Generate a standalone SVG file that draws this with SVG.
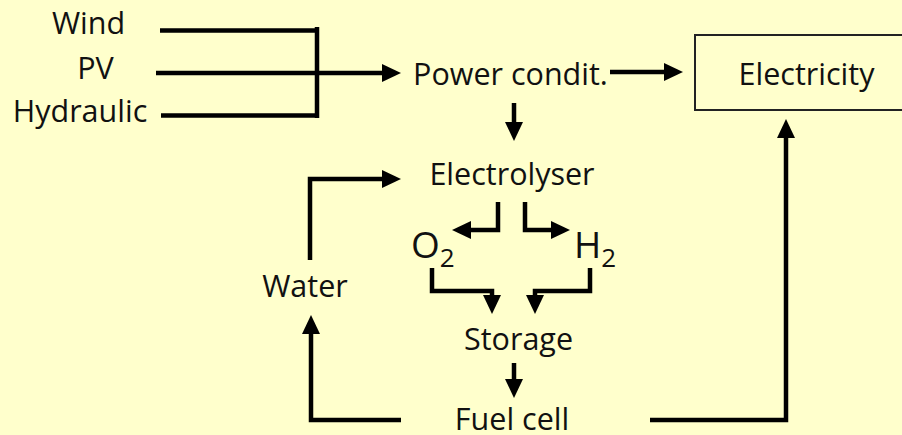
<svg xmlns="http://www.w3.org/2000/svg" width="902" height="435" viewBox="0 0 902 435">
<defs>
<marker id="ah" markerUnits="userSpaceOnUse" markerWidth="19" markerHeight="18" refX="0" refY="9" orient="auto" viewBox="0 0 19 18">
<path d="M0,0 L19,9 L0,18 z" fill="#000"/>
</marker>
<style>
text{font-family:"Open Sans","Noto Sans","DejaVu Sans",sans-serif;font-size:30.5px;fill:#111;text-anchor:middle}
.c{fill:none;stroke:#000;stroke-width:4.5;stroke-linejoin:miter}
.a{marker-end:url(#ah)}
</style>
</defs>
<rect width="902" height="435" fill="#FFFFCC"/>
<g id="wind"><text x="88.5" y="34">Wind</text></g>
<g id="pv"><text x="95.5" y="79">PV</text></g>
<g id="hydraulic"><text x="80" y="122">Hydraulic</text></g>
<g id="power"><text x="510.5" y="85">Power condit.</text></g>
<g id="electricity"><rect x="695" y="35" width="220" height="75" fill="none" stroke="#222" stroke-width="2"/><text x="806.5" y="85">Electricity</text></g>
<g id="electrolyser"><text x="512" y="185">Electrolyser</text></g>
<g id="o2"><text x="411" y="258" style="text-anchor:start;font-size:37px">O<tspan dy="9" style="font-size:26px">2</tspan></text></g>
<g id="h2"><text x="574" y="258" style="text-anchor:start;font-size:37px">H<tspan dy="9" style="font-size:26px">2</tspan></text></g>
<g id="water"><text x="305" y="297">Water</text></g>
<g id="storage"><text x="518.5" y="350">Storage</text></g>
<g id="fuelcell"><text x="512" y="430">Fuel cell</text></g>
<g id="connectors">
<path class="c" d="M160 30.5H317M161 115.5H317M317 27V118"/>
<path class="c a" d="M156 73H382"/>
<path class="c a" d="M610 72H664"/>
<path class="c a" d="M514 103V122"/>
<path class="c a" d="M310 260V179H382"/>
<path class="c a" d="M498 202V230H471"/>
<path class="c a" d="M525 202V230H551"/>
<path class="c a" d="M432 268V291H492V295"/>
<path class="c a" d="M590 268V291H535V295"/>
<path class="c a" d="M514 363V379"/>
<path class="c a" d="M401 420H311V334"/>
<path class="c a" d="M650 420H786V138"/>
</g>
</svg>
